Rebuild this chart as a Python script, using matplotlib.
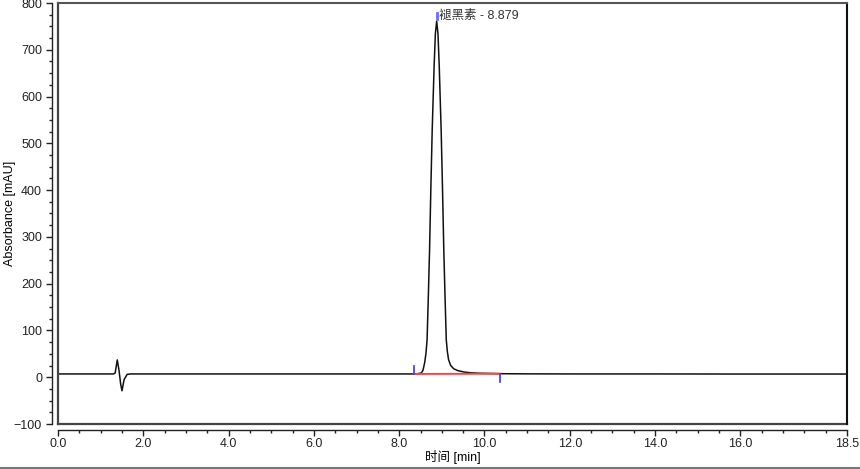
import matplotlib
matplotlib.use("Agg")
import matplotlib.pyplot as plt
from matplotlib.ticker import MultipleLocator, FixedLocator
from matplotlib.lines import Line2D

plt.rcParams['font.family'] = ['Liberation Sans', 'Noto Sans CJK SC']
plt.rcParams['font.size'] = 9

# chromatogram (time in min, absorbance in mAU)
time_min = [0.0, 0.5, 1.0, 1.30, 1.34, 1.39, 1.43, 1.47, 1.50, 1.55, 1.62, 1.70,
            3.0, 5.0, 7.0, 8.0, 8.40,
            8.519, 8.559, 8.599, 8.629, 8.654, 8.684, 8.712, 8.744, 8.774,
            8.819, 8.849, 8.879, 8.909, 8.939, 8.984, 9.014, 9.046, 9.074,
            9.104, 9.129, 9.159, 9.209, 9.279, 9.379, 9.529, 9.679, 9.879,
            10.4, 11.0, 12.0, 14.0, 16.0, 18.5]
absorbance = [7.0, 7.0, 7.0, 7.0, 9.0, 37.0, 15.0, -15.0, -29.0, -5.0, 6.0, 7.0,
              7.0, 7.0, 7.0, 7.0, 7.0,
              9.0, 15.0, 32.0, 52.0, 80.0, 175.0, 272.0, 410.0, 528.0,
              665.0, 735.0, 761.0, 735.0, 665.0, 528.0, 410.0, 272.0, 175.0,
              80.0, 55.0, 37.0, 25.0, 18.0, 14.0, 11.0, 9.5, 8.5,
              7.5, 7.2, 7.0, 7.0, 6.8, 6.8]

peak_name = "褪黑素"
peak_rt = 8.879
peak_top = 761.0
peak_start = (8.34, 7.0)
peak_end = (10.37, 7.5)

x_major = [0.0, 2.0, 4.0, 6.0, 8.0, 10.0, 12.0, 14.0, 16.0, 18.5]
x_labels = ["0.0", "2.0", "4.0", "6.0", "8.0", "10.0", "12.0", "14.0", "16.0", "18.5"]

fig = plt.figure(figsize=(8.6, 4.69), dpi=100)
ax = fig.add_axes([58 / 860, 1 - 424 / 469, (847 - 58) / 860, (424 - 3) / 469])

ax.plot(time_min, absorbance, color='#111111', lw=1.1)

# integration baseline and peak delimiters
ax.plot([peak_start[0], peak_end[0]], [peak_start[1], peak_end[1]], color='#ff4040', lw=1.4)
ax.plot([peak_start[0], peak_start[0]], [peak_start[1], peak_start[1] + 17], color='#3333ff', lw=1.2)
ax.plot([peak_end[0], peak_end[0]], [peak_end[1], peak_end[1] - 17], color='#3333ff', lw=1.2)
ax.plot([peak_rt, peak_rt], [peak_top + 4, peak_top + 17], color='#6a6aff', lw=2)
ax.text(peak_rt + 0.05, peak_top + 11, f"{peak_name} - {peak_rt:.3f}", fontsize=9,
        color='#333333', va='center', ha='left')

ax.set_xlim(0, 18.5)
ax.set_ylim(-100, 800)

ax.xaxis.set_major_locator(FixedLocator(x_major))
ax.set_xticklabels(x_labels)
ax.xaxis.set_minor_locator(MultipleLocator(0.5))
ax.yaxis.set_major_locator(MultipleLocator(100))
ax.yaxis.set_minor_locator(MultipleLocator(25))

ax.spines['top'].set_color('#555555')
ax.spines['top'].set_linewidth(1.5)
ax.spines['right'].set_color('#111111')
ax.spines['right'].set_linewidth(1.5)
for side in ['left', 'bottom']:
    ax.spines[side].set_position(('outward', 4))
    ax.spines[side].set_color('#222222')
    ax.spines[side].set_linewidth(1.0)

# inner frame lines on left and bottom
ax.plot([0, 0], [0, 1], transform=ax.transAxes, color='#444444', lw=1.6, clip_on=False)
ax.plot([0, 1], [0, 0], transform=ax.transAxes, color='#444444', lw=1.6, clip_on=False)

ax.tick_params(which='major', direction='out', length=4, width=1, colors='#222222', labelsize=9)
ax.tick_params(which='minor', direction='out', length=2, width=1, colors='#222222')
ax.tick_params(axis='x', pad=2)

ax.set_xlabel("时间 [min]", fontsize=9, labelpad=0)
ax.set_ylabel("Absorbance [mAU]", fontsize=9)
ax.yaxis.set_label_coords(-0.053, 0.5)

fig.add_artist(Line2D([0, 1], [1 - 467.5 / 469, 1 - 467.5 / 469], transform=fig.transFigure,
                      color='#777777', lw=1.5))

fig.savefig("out.png", dpi=100)
